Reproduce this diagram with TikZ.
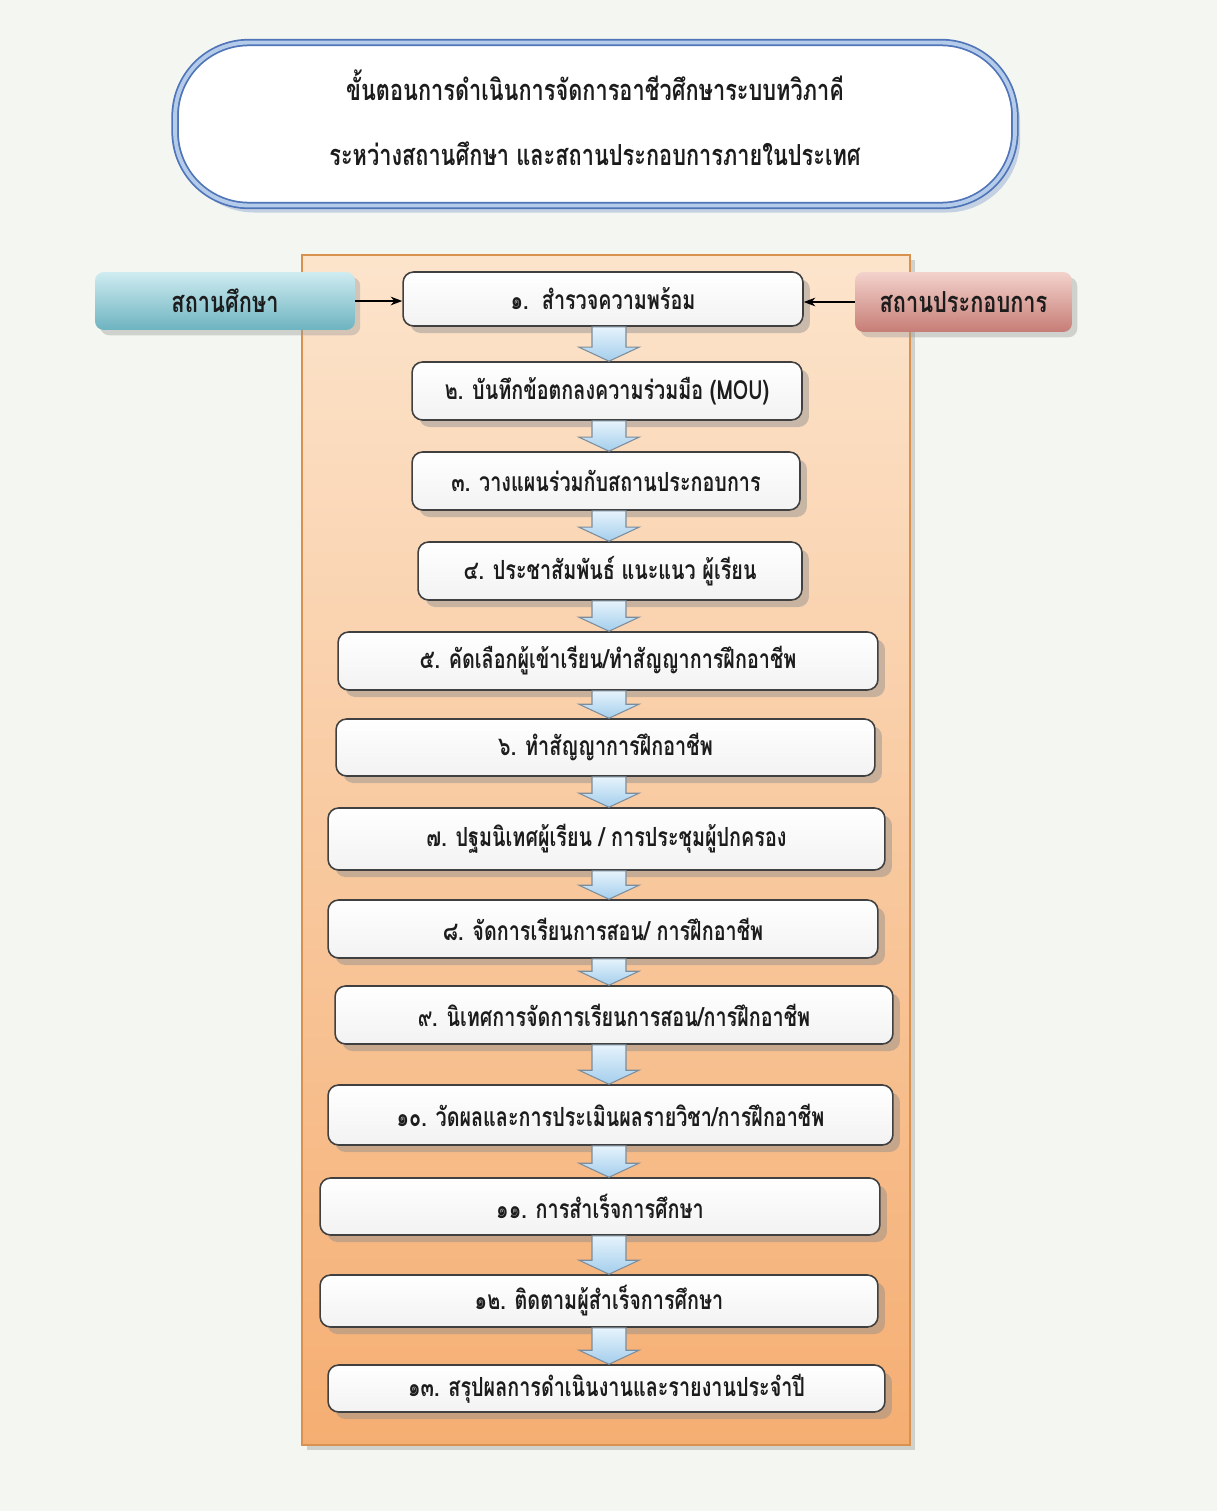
\documentclass[tikz,border=0pt]{standalone}
\usepackage{fontspec}
\newfontfamily\thaifont[Script=Thai, FakeStretch=0.75]{Loma}
\usetikzlibrary{arrows.meta,positioning,calc,shadows}

\definecolor{pagebg}{HTML}{F4F7F1}
\definecolor{paneltop}{HTML}{FCE4CC}
\definecolor{panelbot}{HTML}{F5AE72}
\definecolor{panelline}{HTML}{D8914F}
\definecolor{schooltop}{HTML}{CFECF1}
\definecolor{schoolbot}{HTML}{6DB3C0}
\definecolor{firmtop}{HTML}{F3D2CC}
\definecolor{firmbot}{HTML}{C67D76}
\definecolor{titleline}{HTML}{4F74B8}
\definecolor{titlegap}{HTML}{B4CCEA}
\definecolor{arrowtop}{HTML}{E6F3FC}
\definecolor{arrowbot}{HTML}{A4CEEC}
\definecolor{arrowline}{HTML}{7D8C9A}
\definecolor{inktext}{HTML}{1C1C1C}

% block arrow from one step down to the next
\newcommand{\flowarrow}[2]{%
  \draw[flowarr] ($(#1.south -| ax)+(-17,0)$) -- ($(#1.south -| ax)+(17,0)$)
    -- ($(#2.north -| ax)+(17,-14)$) -- ($(#2.north -| ax)+(30,-14)$)
    -- (#2.north -| ax) -- ($(#2.north -| ax)+(-30,-14)$)
    -- ($(#2.north -| ax)+(-17,-14)$) -- cycle;}

\begin{document}
\begin{tikzpicture}[
        x=0.02cm, y=-0.02cm,
        >=Stealth,
        every node/.style={font=\thaifont\bfseries\fontsize{15}{18}\selectfont, text=inktext},
        stepbox/.style={draw=black!75, line width=0.9pt, rounded corners=6pt,
            top color=white, bottom color=black!5,
            drop shadow={shadow xshift=4pt, shadow yshift=-4pt, fill=black!45, opacity=0.45}},
        sidebox/.style={draw=none, rounded corners=5pt,
            font=\thaifont\bfseries\fontsize{16.5}{20}\selectfont,
            drop shadow={shadow xshift=3pt, shadow yshift=-3pt, fill=black!40, opacity=0.4}},
        flowarr/.style={draw=arrowline, line width=0.6pt, top color=arrowtop, bottom color=arrowbot}
    ]

    % page
    \fill[pagebg] (0,0) rectangle (1217,1511);
    \useasboundingbox (0,0) rectangle (1217,1511);

    % Title
    \node[draw=titleline, line width=1pt, double=titlegap, double distance=2.2pt,
        rounded corners=42pt, fill=white, minimum width=16.8cm, minimum height=3.26cm,
        align=center, font=\thaifont\bfseries\fontsize{16.5}{20}\selectfont,
        drop shadow={shadow xshift=3pt, shadow yshift=-4pt, fill=titleline!60, opacity=0.5}]
        (title) at (595,124)
        {ขั้นตอนการดำเนินการจัดการอาชีวศึกษาระบบทวิภาคี\\[17pt]
         ระหว่างสถานศึกษา และสถานประกอบการภายในประเทศ\\[-13pt]\mbox{}};

    % Orange panel
    \node[draw=panelline, line width=0.8pt, top color=paneltop, bottom color=panelbot,
        minimum width=12.16cm, minimum height=23.8cm,
        drop shadow={shadow xshift=3pt, shadow yshift=-3pt, fill=black!40, opacity=0.4}]
        (panel) at (606,850) {};

    \coordinate (ax) at (609,0);

    % Steps
    \node[stepbox, minimum width=8cm,    minimum height=1.08cm] (s1)  at (603,299)    {๑.~~สำรวจความพร้อม};
    \node[stepbox, minimum width=7.8cm,  minimum height=1.16cm] (s2)  at (607,391)    {๒. บันทึกข้อตกลงความร่วมมือ (MOU)};
    \node[stepbox, minimum width=7.76cm, minimum height=1.16cm] (s3)  at (606,481)    {๓. วางแผนร่วมกับสถานประกอบการ};
    \node[stepbox, minimum width=7.68cm, minimum height=1.16cm] (s4)  at (610,571)    {๔. ประชาสัมพันธ์ แนะแนว ผู้เรียน};
    \node[stepbox, minimum width=10.8cm, minimum height=1.16cm] (s5)  at (608,661)    {๕. คัดเลือกผู้เข้าเรียน/ทำสัญญาการฝึกอาชีพ};
    \node[stepbox, minimum width=10.78cm,minimum height=1.14cm] (s6)  at (605.5,747.5){๖. ทำสัญญาการฝึกอาชีพ};
    \node[stepbox, minimum width=11.14cm,minimum height=1.24cm] (s7)  at (606.5,839)  {๗. ปฐมนิเทศผู้เรียน / การประชุมผู้ปกครอง};
    \node[stepbox, minimum width=11cm,   minimum height=1.16cm] (s8)  at (603,929)    {๘. จัดการเรียนการสอน/ การฝึกอาชีพ};
    \node[stepbox, minimum width=11.16cm,minimum height=1.16cm] (s9)  at (614,1015)   {๙. นิเทศการจัดการเรียนการสอน/การฝึกอาชีพ};
    \node[stepbox, minimum width=11.3cm, minimum height=1.2cm]  (s10) at (610.5,1115) {๑๐. วัดผลและการประเมินผลรายวิชา/การฝึกอาชีพ};
    \node[stepbox, minimum width=11.2cm, minimum height=1.14cm] (s11) at (600,1206.5) {๑๑. การสำเร็จการศึกษา};
    \node[stepbox, minimum width=11.16cm,minimum height=1.04cm] (s12) at (599,1301)   {๑๒. ติดตามผู้สำเร็จการศึกษา};
    \node[stepbox, minimum width=11.14cm,minimum height=0.94cm] (s13) at (606.5,1388.5){๑๓. สรุปผลการดำเนินงานและรายงานประจำปี};

    % Block arrows
    \flowarrow{s1}{s2}
    \flowarrow{s2}{s3}
    \flowarrow{s3}{s4}
    \flowarrow{s4}{s5}
    \flowarrow{s5}{s6}
    \flowarrow{s6}{s7}
    \flowarrow{s7}{s8}
    \flowarrow{s8}{s9}
    \flowarrow{s9}{s10}
    \flowarrow{s10}{s11}
    \flowarrow{s11}{s12}
    \flowarrow{s12}{s13}

    % Partners
    \node[sidebox, top color=schooltop, bottom color=schoolbot,
        minimum width=5.2cm, minimum height=1.16cm] (school) at (225,301) {สถานศึกษา};
    \node[sidebox, top color=firmtop, bottom color=firmbot,
        minimum width=4.34cm, minimum height=1.2cm] (firm) at (963.5,302) {สถานประกอบการ};

    \draw[->, thick] (school.east) -- (school.east -| s1.west);
    \draw[->, thick] (firm.west) -- (firm.west -| s1.east);

\end{tikzpicture}
\end{document}
